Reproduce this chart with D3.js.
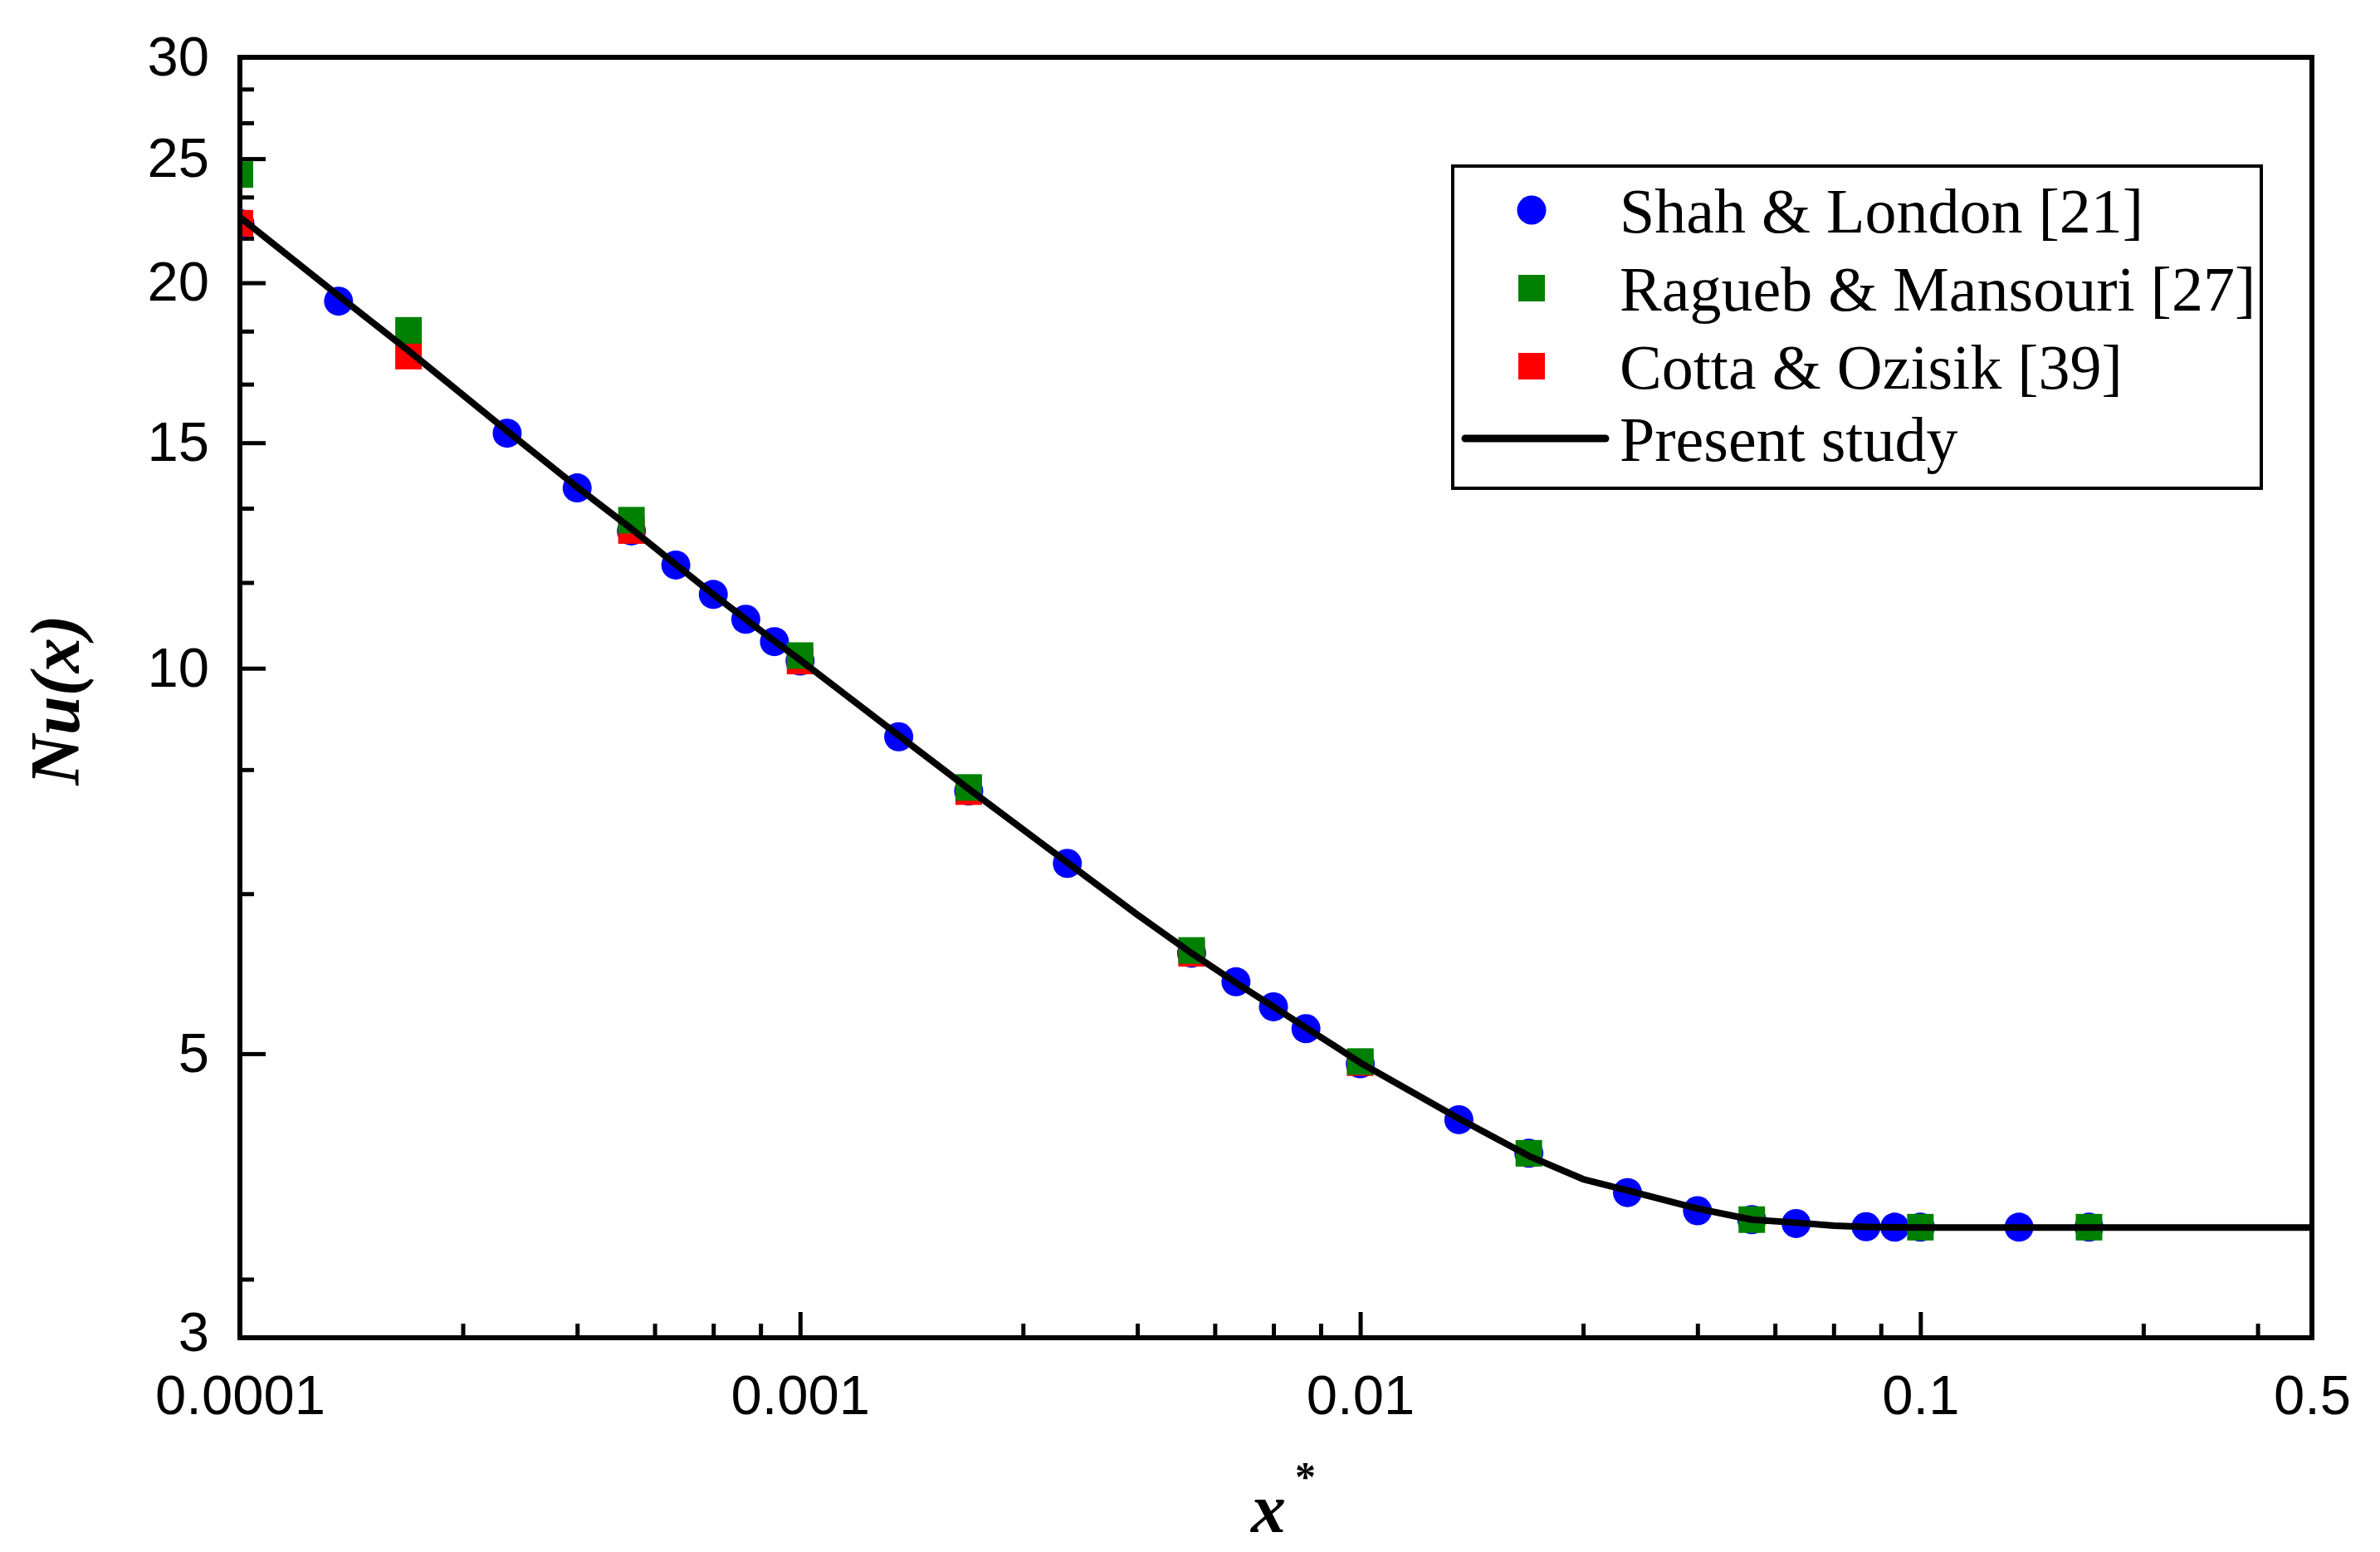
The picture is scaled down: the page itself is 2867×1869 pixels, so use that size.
<!DOCTYPE html>
<html><head><meta charset="utf-8">
<script src="https://cdn.jsdelivr.net/npm/d3@7"></script>
<style>html,body{margin:0;padding:0;background:#fff;} svg{display:block}</style>
</head><body>
<svg id="chart" width="2867" height="1869"></svg>
<script>
// ---- data ----
const shahX  = [0.0001,0.00015,0.0003,0.0004,0.0005,0.0006,0.0007,0.0008,0.0009,0.001,0.0015,0.002,0.003,0.005,0.006,0.007,0.008,0.01,0.015,0.02,0.03,0.04,0.05,0.06,0.08,0.09,0.1,0.15,0.2];
const shahNu = [22.25,19.35,15.26,13.83,12.80,12.04,11.42,10.92,10.49,10.13,8.84,8.02,7.04,5.99,5.69,5.44,5.23,4.91,4.44,4.18,3.895,3.77,3.71,3.684,3.663,3.66,3.66,3.66,3.66];
const raguebX  = [0.0001,0.0002,0.0005,0.001,0.002,0.005,0.01,0.02,0.05,0.1,0.2];
const raguebNu = [24.3,18.36,13.05,10.23,8.07,6.02,4.93,4.18,3.71,3.66,3.66];
const cottaX  = [0.0001,0.0002,0.0005,0.001,0.002,0.005,0.01];
const cottaNu = [22.26,17.53,12.81,10.13,8.01,5.99,4.92];
const presentX  = [0.0001,0.00015,0.0002,0.0003,0.0004,0.0005,0.0006,0.0007,0.0008,0.0009,0.001,0.0015,0.002,0.003,0.004,0.005,0.006,0.007,0.008,0.009,0.01,0.015,0.02,0.025,0.03,0.04,0.05,0.06,0.07,0.08,0.1,0.2,0.3,0.5];
const presentNu = [22.5,19.54,17.7,15.32,13.85,12.85,12.05,11.42,10.92,10.5,10.15,8.86,8.05,7.05,6.42,5.99,5.68,5.44,5.24,5.07,4.92,4.45,4.16,3.99,3.91,3.785,3.71,3.69,3.67,3.662,3.658,3.658,3.658,3.658];

const xMajorTicks = [0.0001,0.001,0.01,0.1,0.5];
const xTickLabels = ["0.0001","0.001","0.01","0.1","0.5"];
const xMinorTicks = [0.00025,0.0004,0.00055,0.0007,0.00085,0.0025,0.004,0.0055,0.007,0.0085,0.025,0.04,0.055,0.07,0.085,0.25,0.4];
const yMajorTicks = [3,5,10,15,20,25,30];
const yTickLabels = ["3","5","10","15","20","25","30"];
const yMinorTicks = [3.3333,6.6667,8.3333,11.6667,13.3333,16.6667,18.3333,21.6667,23.3333,26.6667,28.3333];

const legendLabels = ["Shah & London [21]","Ragueb & Mansouri [27]","Cotta & Ozisik [39]","Present study"];

// ---- layout ----
const L = 289, R = 2785, T = 69, B = 1611;
const svg = d3.select("#chart");
const x = d3.scaleLog().domain([0.0001, 0.5]).range([L, R]);
const y = d3.scaleLog().domain([3, 30]).range([B, T]);

const sans = "'Liberation Sans', Arial, sans-serif";
const serif = "'Liberation Serif', 'Times New Roman', serif";

svg.append("defs").append("clipPath").attr("id","plotclip")
  .append("rect").attr("x",L).attr("y",T).attr("width",R-L).attr("height",B-T);

// axes
function styleAxis(g){
  g.select(".domain").remove();
  g.selectAll(".tick line").attr("stroke","#000").attr("stroke-width",5);
  g.selectAll(".tick text").attr("fill","#000").style("font-family",sans).style("font-size","67px");
}
const xAxisMajor = d3.axisBottom(x).tickValues(xMajorTicks)
  .tickFormat((d,i)=>xTickLabels[i]).tickSizeInner(-31).tickSizeOuter(0).tickPadding(44);
svg.append("g").attr("transform",`translate(0,${B})`).call(xAxisMajor).call(styleAxis);
const xAxisMinor = d3.axisBottom(x).tickValues(xMinorTicks).tickFormat("").tickSizeInner(-17).tickSizeOuter(0);
svg.append("g").attr("transform",`translate(0,${B})`).call(xAxisMinor).call(styleAxis);

const yAxisMajor = d3.axisLeft(y).tickValues(yMajorTicks)
  .tickFormat((d,i)=>yTickLabels[i]).tickSizeInner(-31).tickSizeOuter(0).tickPadding(37);
const yG = svg.append("g").attr("transform",`translate(${L},0)`).call(yAxisMajor).call(styleAxis);
// lift the bottom label a little so it clears the x-axis labels
yG.selectAll(".tick text").filter(d=>d===3).attr("y",-6);
const yAxisMinor = d3.axisLeft(y).tickValues(yMinorTicks).tickFormat("").tickSizeInner(-17).tickSizeOuter(0);
svg.append("g").attr("transform",`translate(${L},0)`).call(yAxisMinor).call(styleAxis);

// markers
const plot = svg.append("g").attr("clip-path","url(#plotclip)");
const SQ = 32;
plot.selectAll("circle.shah").data(shahX).join("circle").attr("class","shah")
  .attr("cx",d=>x(d)).attr("cy",(d,i)=>y(shahNu[i])).attr("r",17.5).attr("fill","#0000ff");
plot.selectAll("rect.cotta").data(cottaX).join("rect").attr("class","cotta")
  .attr("x",d=>x(d)-SQ/2).attr("y",(d,i)=>y(cottaNu[i])-SQ/2).attr("width",SQ).attr("height",SQ).attr("fill","#ff0000");
plot.selectAll("rect.ragueb").data(raguebX).join("rect").attr("class","ragueb")
  .attr("x",d=>x(d)-SQ/2).attr("y",(d,i)=>y(raguebNu[i])-SQ/2).attr("width",SQ).attr("height",SQ).attr("fill","#008000");

// present study line
const line = d3.line().x(d=>x(d[0])).y(d=>y(d[1]));
plot.append("path").datum(presentX.map((d,i)=>[d,presentNu[i]]))
  .attr("d",line).attr("fill","none").attr("stroke","#000").attr("stroke-width",8).attr("stroke-linejoin","round");

// frame
svg.append("rect").attr("x",L).attr("y",T).attr("width",R-L).attr("height",B-T)
  .attr("fill","none").attr("stroke","#000").attr("stroke-width",6);

// axis titles
svg.append("text").attr("transform",`translate(95,843) rotate(-90)`)
  .attr("text-anchor","middle").style("font-family",serif).style("font-size","84px")
  .style("font-weight","bold").style("font-style","italic").text("Nu(x)");
const xt = svg.append("text").attr("x",1507).attr("y",1845).style("font-family",serif).style("font-weight","bold");
xt.append("tspan").style("font-size","84px").style("font-style","italic").text("x");
xt.append("tspan").attr("dx",11).attr("dy",-50).style("font-size","50px").text("*");

// legend
const lg = svg.append("g");
lg.append("rect").attr("x",1750).attr("y",200).attr("width",974).attr("height",388)
  .attr("fill","#fff").attr("stroke","#000").attr("stroke-width",4);
const rowY = [253,347,441,528];
lg.append("circle").attr("cx",1845).attr("cy",rowY[0]).attr("r",17.5).attr("fill","#0000ff");
lg.append("rect").attr("x",1845-SQ/2).attr("y",rowY[1]-SQ/2).attr("width",SQ).attr("height",SQ).attr("fill","#008000");
lg.append("rect").attr("x",1845-SQ/2).attr("y",rowY[2]-SQ/2).attr("width",SQ).attr("height",SQ).attr("fill","#ff0000");
lg.append("line").attr("x1",1765).attr("x2",1934).attr("y1",rowY[3]).attr("y2",rowY[3])
  .attr("stroke","#000").attr("stroke-width",9).attr("stroke-linecap","round");
lg.selectAll("text").data(legendLabels).join("text")
  .attr("x",1951).attr("y",(d,i)=>rowY[i]+27)
  .style("font-family",serif).style("font-size","76px").attr("fill","#000").text(d=>d);
</script>
</body></html>
